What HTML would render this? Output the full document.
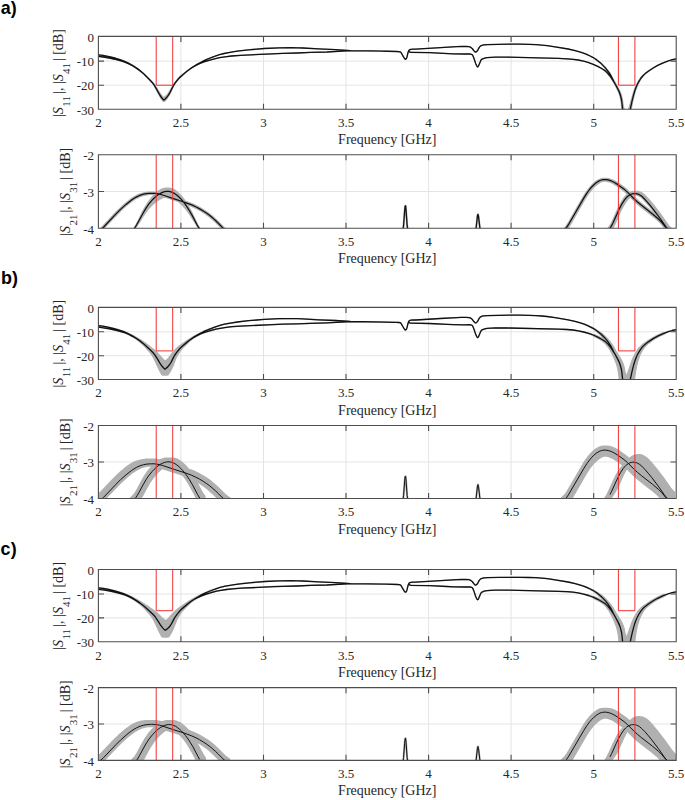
<!DOCTYPE html>
<html><head><meta charset="utf-8"><style>html,body{margin:0;padding:0;background:#fff;width:685px;height:800px;overflow:hidden}svg{display:block}svg{font-family:"Liberation Serif",serif;font-size:13px;fill:#262626}</style></head>
<body>
<svg width="685" height="800" viewBox="0 0 685 800">
<rect width="685" height="800" fill="#fff"/>
<text x="0.7" y="13.6" font-family='"Liberation Sans", sans-serif' font-weight="bold" font-size="17.9" letter-spacing="0.2" fill="#000">a)</text>
<clipPath id="c1"><rect x="98.4" y="36.4" width="577.8" height="72.9"/></clipPath>
<path d="M180.9 36.4V109.3 M263.5 36.4V109.3 M346.0 36.4V109.3 M428.6 36.4V109.3 M511.1 36.4V109.3 M593.7 36.4V109.3 M98.4 61.1H676.2 M98.4 85.2H676.2" stroke="#e4e4e4" stroke-width="1" fill="none"/>
<g clip-path="url(#c1)" fill="none" stroke-linejoin="round" stroke-linecap="round">
<path d="M98.4 54.8 102.9 55.4 108.4 56.4 114.4 57.9 119.4 59.3 123.4 60.7 127.4 62.5 131.4 64.6 134.9 66.7 138.9 69.5 143.4 73.2 145.9 75.5 151.9 81.4 153.4 83.1 154.4 84.4 156.9 88.3 158.9 91.7 160.4 93.8 161.9 95.7 163.4 97.2 163.9 97.5 164.4 97.2 166.4 95.4 168.4 93.2 169.9 90.9 172.4 86.2 173.4 84.5 175.9 81.1 178.9 77.7 180.9 75.8 186.9 71.0 189.9 68.7 193.4 66.4 199.0 63.2 204.0 60.6 209.5 58.2 216.0 55.8 220.5 54.4 225.0 53.3 231.0 52.1 238.0 51.1 249.5 49.7 259.0 48.9 265.0 48.4 279.5 47.8 292.0 47.7 297.5 47.7 302.5 47.9 318.5 48.9 335.5 49.6 350.5 50.6 386.0 51.2 397.1 51.5 399.6 51.7 400.1 51.8 400.6 52.1 401.1 52.7 401.6 53.5 404.1 57.9 405.1 59.1 405.6 59.2 406.1 58.8 406.6 58.0 407.1 56.4 408.1 52.3 408.6 50.9 409.1 50.2 409.6 49.7 410.6 49.3 411.1 49.3 413.1 49.1 415.6 49.1 440.6 47.6 456.6 46.7 461.6 46.5 466.1 46.5 469.1 46.7 469.6 46.8 470.6 47.2 472.1 48.4 472.6 49.0 473.6 50.4 474.6 51.5 475.1 51.9 475.6 52.1 476.1 51.9 476.6 51.6 477.6 50.5 479.1 47.6 480.1 46.3 480.6 45.9 482.1 45.3 483.1 45.0 484.1 44.9 487.1 44.7 498.1 44.4 511.1 44.2 519.6 44.2 528.1 44.4 535.6 44.7 541.1 45.0 546.6 45.5 554.1 46.6 567.6 48.9 574.6 50.4 580.7 52.1 583.7 53.2 586.7 54.3 589.7 55.7 592.2 56.9 594.7 58.4 596.7 59.7 601.2 63.3 603.2 65.1 605.7 67.7 608.2 70.7 610.2 73.5 611.2 75.2 614.2 80.9 617.2 86.1 619.7 90.7 620.7 93.1 621.7 96.3 622.2 98.4 623.2 105.1 623.7 107.2 626.2 115.2 626.7 115.1 627.2 113.6 629.7 105.3 633.2 93.1 634.7 88.6 636.2 85.1 637.7 82.2 639.7 79.0 641.7 76.4 644.2 73.9 647.7 71.3 652.7 68.0 657.2 65.5 662.2 63.1 667.2 61.2 672.2 59.7 676.2 58.8 L676.2 58.9 672.7 59.6 668.2 61.0 663.2 63.0 658.7 65.0 654.2 67.6 650.2 70.2 645.7 73.6 643.7 75.6 641.7 78.0 640.7 79.5 639.2 82.0 637.2 86.2 635.7 90.2 634.2 95.5 632.7 101.9 631.7 107.0 630.2 115.7 629.7 116.5 623.2 116.5 622.7 116.2 622.2 113.0 621.2 103.1 620.7 99.7 619.7 95.4 619.2 93.8 618.2 91.2 615.7 86.2 612.7 80.6 610.2 75.4 609.2 73.7 607.2 70.8 605.2 68.2 602.7 65.5 600.7 63.5 596.2 59.8 594.2 58.4 592.2 57.2 589.7 55.9 587.2 54.7 584.2 53.5 581.2 52.4 575.1 50.6 568.1 49.0 555.1 46.8 547.1 45.6 541.6 45.1 536.1 44.7 529.1 44.4 520.1 44.3 511.1 44.2 498.6 44.4 487.1 44.7 484.1 44.9 483.1 45.0 482.1 45.3 480.6 45.9 480.1 46.4 479.1 47.6 477.6 50.5 476.6 51.6 476.1 52.0 475.6 52.1 475.1 51.9 474.6 51.5 473.6 50.5 472.6 49.0 472.1 48.4 470.6 47.3 469.6 46.8 469.1 46.7 466.1 46.5 461.6 46.5 456.6 46.7 440.6 47.6 415.6 49.2 413.1 49.2 411.1 49.3 410.6 49.3 409.6 49.8 409.1 50.2 408.6 50.9 408.1 52.3 407.1 56.5 406.6 58.1 406.1 58.9 405.6 59.3 405.1 59.2 404.1 58.0 401.6 53.5 401.1 52.7 400.6 52.1 400.1 51.9 399.6 51.8 397.1 51.5 386.0 51.2 350.5 50.6 335.5 49.7 318.5 48.9 302.0 47.9 297.0 47.8 291.0 47.7 278.5 47.9 270.5 48.2 264.0 48.5 247.5 50.0 241.5 50.7 236.0 51.4 228.5 52.6 223.0 53.8 218.5 55.0 213.5 56.7 207.0 59.3 202.0 61.7 196.5 64.8 191.4 68.0 187.4 71.0 182.4 75.3 180.4 77.0 178.4 79.2 175.9 82.5 173.9 85.6 172.9 87.4 169.9 93.9 168.4 96.4 166.9 98.5 164.9 100.9 164.4 101.2 163.9 101.3 163.4 101.2 162.9 100.9 160.9 98.1 158.9 94.7 156.4 89.8 154.4 86.2 153.4 84.6 151.9 82.6 149.9 80.4 143.9 74.2 139.9 70.7 136.4 68.0 132.4 65.4 128.4 63.2 124.4 61.3 120.4 59.7 114.9 58.1 108.9 56.6 102.9 55.4 98.4 54.9Z M98.4 56.3 102.9 56.9 108.9 57.9 115.9 59.5 121.4 60.9 124.9 62.1 128.4 63.5 131.9 65.3 135.4 67.4 139.4 70.1 143.9 73.7 145.9 75.6 151.9 81.5 153.4 83.2 154.4 84.5 156.9 88.4 158.9 91.7 160.4 93.9 161.9 95.8 163.4 97.3 163.9 97.6 164.4 97.3 166.4 95.5 168.4 93.3 169.9 90.9 172.4 86.3 173.4 84.6 175.9 81.2 178.4 78.4 180.4 76.4 186.9 71.1 189.9 68.9 192.9 66.9 197.0 64.7 201.0 63.0 205.0 61.5 211.5 59.6 216.5 58.3 221.0 57.3 226.5 56.5 232.5 55.9 240.5 55.3 273.0 53.7 283.0 53.3 297.0 53.0 311.0 52.4 327.0 52.0 346.0 50.9 352.5 50.8 363.5 50.8 386.5 51.2 397.1 51.5 398.6 51.6 400.1 51.8 400.6 52.1 401.1 52.7 404.1 57.9 405.1 59.1 405.6 59.2 406.1 58.8 406.6 58.0 407.1 56.4 408.1 52.2 408.6 51.2 409.6 51.9 410.6 52.3 411.1 52.3 429.6 52.7 447.1 53.6 453.6 53.8 464.1 54.0 469.6 53.9 470.6 54.0 471.6 54.4 472.1 54.6 472.6 55.1 473.1 56.2 474.1 58.7 475.6 63.3 476.6 65.6 477.1 66.4 477.6 66.8 478.1 66.6 478.6 65.6 480.6 60.9 481.1 59.9 481.6 59.4 482.6 58.8 484.1 58.3 485.6 57.9 487.1 57.6 491.1 57.3 495.6 57.2 506.6 57.1 558.1 58.4 566.6 58.7 572.6 59.2 577.6 59.9 583.2 61.0 588.2 62.4 592.7 64.0 597.2 65.9 603.2 69.2 605.7 70.8 608.2 73.2 611.2 76.7 614.2 81.1 616.2 84.4 618.7 88.9 620.2 92.0 621.2 94.8 622.2 98.5 623.2 105.1 623.7 107.2 626.2 115.2 626.7 115.1 627.2 113.6 629.7 105.3 633.2 93.1 634.7 88.6 636.2 85.1 637.7 82.2 639.7 79.0 641.7 76.4 644.2 73.9 647.7 71.3 652.7 68.0 657.2 65.5 662.2 63.1 667.2 61.2 672.2 59.7 676.2 58.8 L676.2 58.9 672.7 59.6 668.2 61.0 663.2 63.0 658.7 65.0 654.2 67.6 650.2 70.2 645.7 73.6 643.7 75.6 641.7 78.0 640.7 79.5 639.2 82.0 637.2 86.2 635.7 90.2 634.2 95.5 632.7 101.9 631.7 107.0 630.2 115.7 629.7 116.5 623.2 116.5 622.7 116.2 622.2 113.0 621.2 103.2 620.7 99.8 619.7 95.6 618.7 92.6 617.7 90.3 616.2 87.3 613.2 81.7 610.2 77.0 607.7 73.9 605.2 71.3 603.2 69.8 600.7 68.3 597.2 66.3 592.7 64.2 588.2 62.5 583.2 61.1 577.6 60.0 572.6 59.3 566.6 58.8 558.1 58.4 506.6 57.2 495.6 57.2 491.1 57.4 487.1 57.7 485.6 57.9 484.1 58.3 482.6 58.9 481.6 59.5 481.1 60.0 480.6 61.0 478.6 65.7 478.1 66.7 477.6 66.9 477.1 66.5 476.6 65.6 475.6 63.4 474.1 58.7 473.1 56.2 472.6 55.2 472.1 54.6 470.6 54.1 469.1 53.9 464.1 54.0 453.1 53.8 429.6 52.7 411.1 52.3 410.6 52.3 409.6 51.9 408.6 51.2 408.1 52.2 407.1 56.5 406.6 58.1 406.1 58.9 405.6 59.3 405.1 59.2 404.1 58.0 401.1 52.7 400.6 52.1 400.1 51.9 398.6 51.6 396.1 51.5 370.5 50.9 356.5 50.8 346.5 50.9 327.0 52.0 311.0 52.5 297.0 53.1 283.0 53.4 272.5 53.8 240.5 55.3 231.0 56.1 224.5 56.8 219.0 57.8 214.0 59.0 207.5 60.8 203.0 62.3 199.0 64.0 195.0 66.0 191.4 68.2 187.4 71.2 181.9 75.9 179.9 77.7 177.9 80.0 175.9 82.6 173.9 85.7 172.9 87.5 169.9 94.0 168.4 96.5 166.9 98.6 164.9 101.0 164.4 101.3 163.9 101.4 163.4 101.3 162.9 101.0 160.9 98.3 158.9 94.8 156.4 89.9 154.4 86.3 153.4 84.7 151.9 82.7 149.9 80.5 143.9 74.3 139.9 70.9 136.4 68.3 132.4 65.8 128.9 63.9 125.4 62.4 121.9 61.2 116.4 59.7 109.4 58.1 103.4 57.0 98.4 56.4Z" fill="#b0b0b0" stroke="#b0b0b0" stroke-width="1.2"/>
<path d="M98.4 54.9 102.9 55.4 108.9 56.6 114.9 58.0 119.9 59.5 123.9 61.0 127.9 62.8 131.9 65.0 135.9 67.6 139.4 70.1 143.9 74.0 149.9 80.0 151.9 82.1 153.4 83.9 154.4 85.4 156.4 88.8 158.9 93.4 160.9 96.7 162.9 99.2 163.4 99.7 163.9 99.9 164.4 99.7 164.9 99.2 166.9 97.1 168.4 95.1 169.9 92.6 173.4 85.6 175.9 81.9 178.4 78.8 180.4 76.7 185.4 72.5 188.9 69.7 191.9 67.6 197.5 64.1 203.0 61.2 208.0 58.9 214.5 56.3 219.5 54.7 224.0 53.5 230.0 52.3 237.0 51.2 248.5 49.9 264.5 48.5 279.0 47.8 291.5 47.7 297.5 47.8 302.5 48.0 318.5 48.9 335.5 49.7 350.5 50.6 386.0 51.2 397.1 51.5 399.6 51.8 400.1 51.9 400.6 52.1 401.1 52.7 401.6 53.5 404.1 57.9 405.1 59.2 405.6 59.3 406.1 58.8 406.6 58.1 407.1 56.5 408.1 52.3 408.6 50.9 409.1 50.2 409.6 49.8 410.6 49.3 411.1 49.3 413.1 49.1 415.6 49.2 440.6 47.6 456.6 46.7 461.6 46.5 466.1 46.5 469.1 46.7 469.6 46.8 470.6 47.2 472.1 48.4 472.6 49.0 473.6 50.4 474.6 51.5 475.1 51.9 475.6 52.1 476.1 52.0 476.6 51.6 477.6 50.5 479.1 47.6 480.1 46.4 480.6 45.9 482.1 45.3 483.1 45.0 484.1 44.9 487.1 44.7 498.6 44.4 511.1 44.2 520.1 44.2 529.1 44.4 536.1 44.7 541.6 45.1 547.1 45.6 555.1 46.8 568.1 49.0 575.1 50.6 581.2 52.3 584.2 53.4 587.2 54.6 590.2 56.0 592.7 57.3 594.7 58.5 596.7 59.9 601.2 63.6 603.2 65.6 605.7 68.3 607.7 70.8 609.7 73.7 610.7 75.3 613.7 81.3 617.7 88.6 619.2 91.7 620.2 94.5 621.2 98.2 621.7 100.7 622.7 109.7 624.2 116.5 628.7 116.5 632.2 100.3 633.7 94.5 635.2 89.5 636.7 85.8 638.7 81.8 640.7 78.5 642.7 76.0 645.2 73.6 648.7 71.0 653.2 68.0 657.7 65.4 662.7 63.1 667.7 61.1 672.2 59.7 676.2 58.9 M98.4 56.4 103.4 57.0 109.4 58.1 116.4 59.6 121.9 61.2 125.4 62.4 128.9 63.9 132.4 65.7 135.9 67.9 139.9 70.8 143.9 74.1 149.9 80.1 151.9 82.2 153.4 84.0 154.4 85.5 156.4 88.9 158.9 93.5 160.9 96.8 162.9 99.3 163.4 99.8 163.9 100.0 164.4 99.8 164.9 99.3 166.9 97.2 168.4 95.2 169.9 92.7 172.4 87.6 173.4 85.7 175.4 82.7 177.9 79.5 179.9 77.4 185.4 72.6 188.9 69.8 191.9 67.7 196.0 65.4 200.0 63.5 204.0 61.9 209.0 60.3 214.5 58.8 219.5 57.7 225.0 56.8 231.5 56.0 240.5 55.3 272.5 53.8 283.0 53.4 297.0 53.0 311.0 52.4 327.0 52.0 346.5 50.9 357.0 50.8 371.0 50.9 396.1 51.5 398.6 51.6 400.1 51.9 400.6 52.1 401.1 52.7 404.1 57.9 405.1 59.2 405.6 59.3 406.1 58.8 406.6 58.1 407.1 56.5 408.1 52.2 408.6 51.2 409.6 51.9 410.6 52.3 411.1 52.3 429.6 52.7 453.1 53.8 464.1 54.0 469.1 53.9 470.6 54.1 472.1 54.6 472.6 55.1 473.1 56.2 474.1 58.7 475.6 63.4 476.6 65.6 477.1 66.5 477.6 66.9 478.1 66.6 478.6 65.7 480.6 60.9 481.1 60.0 481.6 59.4 482.6 58.9 484.1 58.3 485.6 57.9 487.1 57.7 491.1 57.4 495.6 57.2 507.1 57.2 558.6 58.4 567.1 58.8 573.1 59.3 578.1 60.0 583.7 61.2 588.7 62.6 593.2 64.3 597.7 66.4 601.2 68.3 603.7 69.8 604.7 70.5 605.7 71.3 608.2 73.9 610.2 76.2 611.2 77.6 614.2 82.3 615.7 85.0 618.2 89.7 619.7 93.2 620.7 96.3 621.7 100.8 622.7 109.7 624.2 116.5 628.7 116.5 632.2 100.3 633.7 94.5 635.2 89.5 636.7 85.8 638.7 81.8 640.7 78.5 642.7 76.0 645.2 73.6 648.7 71.0 653.2 68.0 657.7 65.4 662.7 63.1 667.7 61.1 672.2 59.7 676.2 58.9" stroke="#111" stroke-width="1.3"/>
<path d="M156.2 36.4V85.2H172.7V36.4 M618.4 36.4V85.2H634.9V36.4" stroke="#f03030" stroke-width="1" stroke-linecap="butt" stroke-linejoin="miter"/>
</g>
<path d="M98.4 36.4H676.2V109.3H98.4Z M180.9 109.3v-5.6 M180.9 36.4v5.6 M263.5 109.3v-5.6 M263.5 36.4v5.6 M346.0 109.3v-5.6 M346.0 36.4v5.6 M428.6 109.3v-5.6 M428.6 36.4v5.6 M511.1 109.3v-5.6 M511.1 36.4v5.6 M593.7 109.3v-5.6 M593.7 36.4v5.6 M98.4 61.1h5.6 M676.2 61.1h-5.6 M98.4 85.2h5.6 M676.2 85.2h-5.6" stroke="#4d4d4d" stroke-width="1.1" fill="none"/>
<text x="98.4" y="127.1" text-anchor="middle">2</text>
<text x="180.9" y="127.1" text-anchor="middle">2.5</text>
<text x="263.5" y="127.1" text-anchor="middle">3</text>
<text x="346.0" y="127.1" text-anchor="middle">3.5</text>
<text x="428.6" y="127.1" text-anchor="middle">4</text>
<text x="511.1" y="127.1" text-anchor="middle">4.5</text>
<text x="593.7" y="127.1" text-anchor="middle">5</text>
<text x="676.2" y="127.1" text-anchor="middle">5.5</text>
<text x="94" y="42.2" text-anchor="end">0</text>
<text x="94" y="66.3" text-anchor="end">-10</text>
<text x="94" y="90.4" text-anchor="end">-20</text>
<text x="94" y="114.5" text-anchor="end">-30</text>
<text x="387.3" y="144.3" text-anchor="middle" font-size="14">Frequency [GHz]</text>
<text transform="translate(63.4,72.8) rotate(-90)" font-size="14"><tspan x="-44.2" y="0">|</tspan><tspan x="-41.4" y="0" font-style="italic">S</tspan><tspan x="-33.9" y="7" font-size="11">11</tspan><tspan x="-21.1" y="0">|, |</tspan><tspan x="-8.5" y="0" font-style="italic">S</tspan><tspan x="-1.3" y="7" font-size="11">41</tspan><tspan x="11.7" y="0">| [dB]</tspan></text>
<clipPath id="c2"><rect x="98.4" y="154.7" width="577.8" height="73.6"/></clipPath>
<path d="M180.9 154.7V228.3 M263.5 154.7V228.3 M346.0 154.7V228.3 M428.6 154.7V228.3 M511.1 154.7V228.3 M593.7 154.7V228.3 M98.4 191.5H676.2" stroke="#e4e4e4" stroke-width="1" fill="none"/>
<g clip-path="url(#c2)" fill="none" stroke-linejoin="round" stroke-linecap="round">
<path d="M98.2 229.9 100.7 228.1 102.7 226.2 115.7 212.5 120.8 207.5 123.8 204.7 126.8 202.2 129.3 200.2 131.8 198.3 134.3 196.7 136.8 195.3 138.8 194.4 141.3 193.5 143.8 192.9 146.8 192.4 149.4 192.2 152.4 192.2 154.9 192.3 157.9 192.6 160.4 193.1 163.4 194.0 174.4 197.8 183.0 200.4 187.0 201.8 192.5 203.9 197.0 206.0 200.0 207.6 203.5 209.7 207.0 212.1 210.1 214.3 213.1 216.8 216.6 220.0 224.1 227.5 227.1 229.9 L227.1 233.0 223.1 229.9 215.6 222.4 212.6 219.6 209.6 217.1 206.5 214.8 203.5 212.7 200.0 210.5 196.5 208.6 192.0 206.4 186.5 204.2 182.0 202.7 172.9 199.8 162.9 196.4 159.9 195.5 157.4 195.0 154.4 194.5 151.9 194.4 149.4 194.5 146.3 194.9 143.8 195.4 141.3 196.1 139.3 196.9 136.8 198.1 134.8 199.3 132.3 201.0 127.3 204.9 122.3 209.3 117.3 214.3 103.7 228.6 101.7 230.4 98.2 232.9Z M131.3 231.0 133.8 228.3 135.3 226.1 137.3 222.4 142.3 212.1 144.8 207.5 147.8 202.7 149.3 200.6 151.3 198.0 153.3 195.7 155.3 193.7 157.3 192.0 159.3 190.5 161.3 189.4 163.3 188.6 165.3 188.1 166.8 188.0 168.8 188.0 170.8 188.3 172.8 189.0 174.3 189.8 176.3 191.1 178.3 192.9 180.3 194.9 182.3 197.2 184.3 199.8 185.8 201.9 188.8 206.7 191.8 212.3 196.8 222.8 198.3 225.7 199.8 228.1 201.8 230.6 L201.8 232.1 197.8 227.2 196.8 225.8 191.3 216.9 188.3 212.4 185.3 208.5 182.3 205.2 180.3 203.3 178.3 201.6 176.3 200.1 174.3 198.8 172.3 197.9 170.8 197.4 168.8 197.0 167.3 196.9 165.8 197.0 163.8 197.5 161.8 198.2 159.8 199.2 157.8 200.4 155.8 201.8 153.8 203.5 151.8 205.3 148.8 208.5 145.8 212.3 143.3 215.9 138.3 223.9 136.3 226.8 131.3 232.3Z M562.3 230.1 565.3 227.1 567.3 224.3 569.3 221.0 583.3 196.6 586.3 191.9 589.4 187.8 591.4 185.5 593.4 183.5 595.4 181.8 596.9 180.7 598.9 179.6 600.4 179.0 601.9 178.6 603.9 178.4 606.4 178.4 608.4 178.7 610.4 179.2 612.9 180.1 614.9 181.1 617.5 182.6 621.0 185.1 624.5 187.6 626.5 189.3 628.5 191.1 635.0 197.7 638.5 201.0 642.5 204.3 653.6 213.0 659.6 218.1 662.6 221.2 667.6 227.2 670.1 229.7 L670.1 233.8 666.1 230.0 661.1 223.9 658.1 220.8 655.6 218.6 652.1 215.7 641.0 207.0 637.0 203.7 633.5 200.4 627.0 193.8 624.0 191.1 621.5 189.2 617.5 186.3 614.9 184.7 612.9 183.5 610.9 182.5 608.9 181.8 606.9 181.3 604.9 181.0 603.4 181.2 601.9 181.6 600.4 182.2 598.4 183.4 596.4 184.9 594.4 186.7 592.4 188.8 590.9 190.6 587.8 194.7 584.8 199.4 571.3 223.0 568.8 227.1 566.8 229.8 562.3 234.3Z M606.6 230.5 610.1 225.2 611.1 223.5 612.6 220.4 616.6 211.4 619.1 206.0 621.7 201.4 623.7 198.2 625.2 196.3 626.2 195.1 627.2 194.2 628.7 193.0 629.7 192.4 631.2 191.8 632.2 191.5 633.7 191.3 637.7 191.4 639.3 191.7 640.3 192.0 641.3 192.5 642.8 193.5 644.3 194.7 645.8 196.1 649.8 200.4 654.3 205.9 660.9 214.6 667.9 224.6 669.4 226.4 671.4 228.5 L671.4 234.4 666.9 229.7 665.9 228.5 664.4 226.5 659.4 219.2 653.8 211.7 649.8 206.6 645.8 202.0 642.3 198.4 640.8 197.1 639.8 196.4 638.2 195.5 637.2 195.1 635.7 194.8 635.2 194.7 633.7 195.1 632.7 195.5 631.2 196.3 630.2 197.0 628.2 199.0 627.2 200.1 625.7 202.2 623.7 205.5 621.1 210.3 619.1 214.6 615.1 223.7 613.6 226.7 612.6 228.4 606.6 237.5Z" fill="#b0b0b0" stroke="#b0b0b0" stroke-width="1.2"/>
<path d="M401.5 235.0 402.0 233.9 402.5 231.8 403.0 229.2 403.6 225.3 404.6 211.4 405.1 206.3 405.6 205.8 406.1 210.6 407.1 225.2 407.7 229.2 408.2 231.9 408.7 234.0 409.2 235.0 M475.0 235.0 476.0 229.0 477.5 215.5 478.0 214.3 478.5 216.4 480.0 228.9 481.0 235.0" stroke="#b0b0b0" stroke-width="2"/>
<path d="M100.5 229.8 102.0 228.6 103.5 227.2 116.0 213.9 120.5 209.4 126.1 204.4 129.1 201.9 131.6 200.0 134.1 198.3 136.6 196.9 139.1 195.7 141.1 194.9 143.6 194.2 146.1 193.7 149.1 193.4 151.6 193.3 154.1 193.3 157.1 193.7 159.6 194.2 162.7 195.0 174.2 198.9 182.2 201.5 186.2 202.8 191.7 204.9 196.2 207.0 199.7 208.9 203.2 211.0 206.8 213.3 209.8 215.6 212.8 218.1 215.8 220.8 218.8 223.7 222.8 227.9 224.8 229.6 M133.6 229.1 135.1 227.3 136.6 225.0 142.7 213.7 145.7 208.6 148.7 204.2 151.7 200.6 153.7 198.5 155.7 196.6 157.7 195.0 159.8 193.7 161.8 192.6 163.8 191.9 165.8 191.4 167.3 191.3 169.3 191.4 170.8 191.8 172.8 192.5 174.3 193.4 176.4 194.8 178.4 196.5 180.4 198.4 182.4 200.6 184.4 203.1 185.9 205.2 188.9 209.8 192.0 215.1 197.0 224.8 198.5 227.2 199.5 228.6 M564.9 229.3 566.4 227.6 568.4 224.7 583.9 197.9 586.9 193.1 589.9 189.0 591.9 186.7 593.9 184.7 595.9 183.0 597.9 181.6 599.9 180.5 601.4 180.0 602.9 179.6 604.9 179.5 606.9 179.7 608.9 180.1 610.9 180.8 612.9 181.7 614.9 182.8 617.5 184.4 621.0 186.9 624.0 189.1 627.5 192.1 634.0 198.7 637.5 202.0 641.5 205.3 652.5 214.0 658.5 219.1 661.5 222.1 666.0 227.6 667.5 229.2 M610.2 228.0 611.2 226.4 612.7 223.5 617.2 213.4 619.7 208.1 622.2 203.4 624.2 200.3 625.7 198.4 626.7 197.3 627.7 196.3 629.2 195.2 630.2 194.6 631.7 194.0 633.2 193.6 634.7 193.5 636.2 193.6 637.2 193.9 638.7 194.4 639.8 195.0 640.8 195.6 642.3 196.8 645.3 199.8 649.3 204.3 653.3 209.3 659.8 218.0 665.8 226.6 667.8 229.0 M401.5 235.0 402.0 233.9 402.5 231.8 403.0 229.2 403.6 225.3 404.6 211.4 405.1 206.3 405.6 205.8 406.1 210.6 407.1 225.2 407.7 229.2 408.2 231.9 408.7 234.0 409.2 235.0 M475.0 235.0 476.0 229.0 477.5 215.5 478.0 214.3 478.5 216.4 480.0 228.9 481.0 235.0" stroke="#111" stroke-width="1.25"/>
<path d="M156.2 154.7V228.3 M172.7 154.7V228.3 M618.4 154.7V228.3 M634.9 154.7V228.3" stroke="#f03030" stroke-width="1" stroke-linecap="butt" stroke-linejoin="miter"/>
</g>
<path d="M98.4 154.7H676.2V228.3H98.4Z M180.9 228.3v-5.6 M180.9 154.7v5.6 M263.5 228.3v-5.6 M263.5 154.7v5.6 M346.0 228.3v-5.6 M346.0 154.7v5.6 M428.6 228.3v-5.6 M428.6 154.7v5.6 M511.1 228.3v-5.6 M511.1 154.7v5.6 M593.7 228.3v-5.6 M593.7 154.7v5.6 M98.4 191.5h5.6 M676.2 191.5h-5.6" stroke="#4d4d4d" stroke-width="1.1" fill="none"/>
<text x="98.4" y="246.1" text-anchor="middle">2</text>
<text x="180.9" y="246.1" text-anchor="middle">2.5</text>
<text x="263.5" y="246.1" text-anchor="middle">3</text>
<text x="346.0" y="246.1" text-anchor="middle">3.5</text>
<text x="428.6" y="246.1" text-anchor="middle">4</text>
<text x="511.1" y="246.1" text-anchor="middle">4.5</text>
<text x="593.7" y="246.1" text-anchor="middle">5</text>
<text x="676.2" y="246.1" text-anchor="middle">5.5</text>
<text x="94" y="159.9" text-anchor="end">-2</text>
<text x="94" y="196.7" text-anchor="end">-3</text>
<text x="94" y="233.5" text-anchor="end">-4</text>
<text x="387.3" y="263.3" text-anchor="middle" font-size="14">Frequency [GHz]</text>
<text transform="translate(69.6,191.5) rotate(-90)" font-size="14"><tspan x="-44.2" y="0">|</tspan><tspan x="-41.4" y="0" font-style="italic">S</tspan><tspan x="-33.9" y="7" font-size="11">21</tspan><tspan x="-21.1" y="0">|, |</tspan><tspan x="-8.5" y="0" font-style="italic">S</tspan><tspan x="-1.3" y="7" font-size="11">31</tspan><tspan x="11.7" y="0">| [dB]</tspan></text>
<text x="0.9" y="284.4" font-family='"Liberation Sans", sans-serif' font-weight="bold" font-size="17.9" letter-spacing="0.2" fill="#000">b)</text>
<clipPath id="c3"><rect x="98.4" y="307.4" width="577.8" height="72.1"/></clipPath>
<path d="M180.9 307.4V379.5 M263.5 307.4V379.5 M346.0 307.4V379.5 M428.6 307.4V379.5 M511.1 307.4V379.5 M593.7 307.4V379.5 M98.4 331.8H676.2 M98.4 355.7H676.2" stroke="#e4e4e4" stroke-width="1" fill="none"/>
<g clip-path="url(#c3)" fill="none" stroke-linejoin="round" stroke-linecap="round">
<path d="M98.4 325.5 102.4 326.0 107.4 326.9 112.9 328.1 117.9 329.4 121.9 330.7 125.9 332.2 129.4 333.7 133.4 335.7 137.9 338.3 142.4 341.1 146.9 344.3 154.4 350.1 156.9 352.3 162.4 358.5 163.9 359.9 164.9 360.7 165.4 360.7 165.9 360.4 166.9 359.6 167.9 358.7 168.9 357.6 171.4 354.1 172.9 352.2 175.9 349.0 178.9 346.3 185.9 341.3 189.4 339.0 194.4 336.0 200.0 333.0 204.5 330.9 209.5 328.8 215.5 326.6 220.0 325.2 224.0 324.2 229.0 323.2 235.5 322.2 242.0 321.3 256.0 319.9 267.0 319.1 281.0 318.6 293.5 318.5 301.5 318.7 318.5 319.7 334.5 320.4 346.0 321.2 346.5 321.2 350.5 321.5 386.0 322.0 397.1 322.3 399.6 322.6 400.1 322.7 400.6 322.9 401.1 323.5 401.6 324.3 404.1 328.7 405.1 329.8 405.6 330.0 406.1 329.5 406.6 328.8 407.1 327.2 408.1 323.1 408.6 321.7 409.1 321.0 409.6 320.6 410.6 320.2 411.1 320.1 413.1 320.0 415.6 320.0 440.6 318.4 456.6 317.6 461.6 317.4 466.1 317.3 469.1 317.6 469.6 317.6 470.6 318.1 472.1 319.2 472.6 319.8 473.6 321.3 474.6 322.3 475.1 322.7 475.6 322.9 476.1 322.8 476.6 322.4 477.6 321.3 479.1 318.5 480.1 317.2 480.6 316.8 481.6 316.3 482.6 316.0 483.6 315.8 487.1 315.6 496.1 315.3 517.1 315.1 533.1 315.5 538.6 315.7 543.6 316.1 551.6 317.1 564.6 319.2 571.6 320.5 577.6 322.0 583.7 323.9 586.7 325.0 589.7 326.2 592.2 327.4 594.7 328.7 596.7 329.9 598.7 331.2 602.7 334.2 606.7 337.9 608.7 340.1 610.2 341.9 612.7 345.3 615.7 350.7 620.7 358.7 622.2 361.6 623.2 364.1 623.7 365.6 624.2 367.4 625.2 373.0 625.7 374.5 626.2 375.6 626.7 375.5 627.7 373.1 632.2 359.9 634.2 355.4 635.7 352.7 637.7 349.6 639.2 347.7 641.2 345.6 643.2 343.9 648.2 340.6 652.7 338.0 657.2 335.7 662.2 333.6 667.7 331.6 672.2 330.3 676.2 329.5 L676.2 329.8 672.7 330.5 668.7 331.8 664.2 333.6 660.2 335.4 656.7 337.4 653.7 339.3 649.2 342.7 647.2 344.4 646.2 345.3 644.7 347.0 643.7 348.3 642.7 349.8 641.2 352.5 640.2 354.6 639.2 357.0 637.7 361.5 636.7 365.5 635.7 370.7 634.7 377.7 634.2 382.8 633.7 386.7 619.7 386.7 619.2 378.8 618.7 373.9 618.2 370.6 617.7 368.1 617.2 366.1 616.2 363.0 613.7 357.1 611.2 351.8 609.2 347.3 608.2 345.3 606.2 342.1 604.2 339.3 601.7 336.3 599.7 334.3 595.7 330.8 593.7 329.3 591.7 328.1 589.2 326.7 586.7 325.5 583.7 324.2 580.7 323.2 574.6 321.4 568.1 319.9 555.1 317.7 547.1 316.5 541.6 316.0 536.1 315.6 529.1 315.4 520.1 315.2 511.1 315.2 498.6 315.3 487.1 315.6 484.1 315.8 483.1 315.9 482.1 316.2 480.6 316.8 480.1 317.3 479.1 318.5 477.6 321.4 476.6 322.5 476.1 322.8 475.6 323.0 475.1 322.8 474.6 322.4 473.6 321.3 472.6 319.9 472.1 319.3 470.6 318.2 469.6 317.7 469.1 317.6 466.1 317.4 461.6 317.4 456.6 317.6 440.6 318.5 415.6 320.1 413.1 320.1 411.1 320.2 410.6 320.2 409.6 320.7 409.1 321.1 408.6 321.8 408.1 323.2 407.1 327.3 406.6 328.9 406.1 329.7 405.6 330.1 405.1 330.0 404.1 328.8 401.6 324.4 401.1 323.6 400.6 323.0 400.1 322.8 399.1 322.6 396.6 322.4 385.5 322.1 350.5 321.5 335.5 320.6 318.5 319.8 302.0 318.8 296.5 318.7 289.5 318.6 277.0 318.8 269.0 319.1 263.0 319.5 246.0 321.0 240.0 321.7 234.0 322.6 227.0 323.8 222.0 324.9 217.0 326.4 211.5 328.4 206.0 330.7 201.5 333.0 196.5 336.0 191.9 339.2 188.4 342.1 183.9 346.5 181.9 348.6 180.4 350.5 178.4 353.6 176.4 357.2 175.4 359.5 172.9 366.0 170.9 370.0 168.4 374.2 167.9 374.7 166.9 374.9 165.4 374.8 164.4 374.9 163.4 374.8 162.4 374.9 161.9 374.7 161.4 373.9 159.4 370.1 155.4 361.3 153.9 358.2 152.9 356.4 151.4 354.1 148.9 351.1 143.4 345.1 139.4 341.5 135.4 338.3 131.9 336.0 127.9 333.8 123.9 331.9 119.9 330.4 114.9 328.9 108.9 327.4 102.9 326.3 98.4 325.7Z M98.4 327.0 102.4 327.4 107.9 328.4 114.4 329.7 119.9 331.0 123.4 332.0 126.9 333.2 129.9 334.4 133.4 336.1 136.4 337.7 139.4 339.4 144.9 343.0 147.4 344.8 153.9 349.7 156.9 352.3 162.4 358.6 163.9 360.0 164.9 360.8 165.4 360.8 165.9 360.4 166.9 359.7 167.9 358.8 168.9 357.6 171.4 354.1 172.4 352.9 175.4 349.7 178.4 346.9 185.4 341.8 188.4 339.8 191.9 337.6 195.5 335.7 199.5 333.9 203.5 332.5 209.5 330.7 215.5 329.1 219.5 328.2 224.0 327.5 229.5 326.8 235.5 326.3 241.5 325.9 274.5 324.4 283.5 324.1 296.5 323.8 310.5 323.2 327.0 322.7 346.0 321.7 364.5 321.6 388.1 322.1 397.1 322.3 398.6 322.4 400.1 322.7 400.6 322.9 401.1 323.5 404.1 328.7 405.1 329.8 405.6 330.0 406.1 329.5 406.6 328.8 407.1 327.2 408.1 323.0 408.6 322.0 409.6 322.7 410.6 323.1 411.1 323.1 429.6 323.5 447.1 324.4 453.6 324.6 464.1 324.8 469.6 324.7 470.6 324.8 471.6 325.1 472.1 325.4 472.6 325.9 473.1 326.9 474.1 329.4 475.6 334.0 476.6 336.2 477.1 337.0 477.6 337.4 478.1 337.2 478.6 336.2 480.6 331.6 481.1 330.6 481.6 330.1 482.6 329.5 484.1 329.0 485.6 328.6 487.1 328.4 491.1 328.1 495.6 327.9 506.6 327.9 557.1 329.1 565.6 329.4 571.6 329.8 576.6 330.4 581.7 331.3 586.7 332.5 591.2 333.9 595.2 335.3 599.2 337.1 604.7 339.9 606.7 341.1 607.7 341.9 610.7 344.7 612.2 346.3 613.7 348.1 617.2 353.1 621.2 359.7 622.7 362.9 623.7 365.7 624.2 367.5 625.2 373.0 625.7 374.5 626.2 375.6 626.7 375.5 627.7 373.1 632.2 359.9 634.2 355.4 635.7 352.7 637.7 349.6 639.2 347.7 641.2 345.6 643.2 343.9 648.2 340.6 652.7 338.0 657.2 335.7 662.2 333.6 667.7 331.6 672.2 330.3 676.2 329.5 L676.2 329.8 672.7 330.5 668.7 331.8 664.2 333.6 660.2 335.4 656.7 337.4 653.7 339.3 649.2 342.7 647.2 344.4 646.2 345.3 644.7 347.0 643.7 348.3 642.7 349.8 641.2 352.5 640.2 354.6 639.2 357.0 637.7 361.5 636.7 365.5 635.7 370.7 634.7 377.7 634.2 382.8 633.7 386.7 619.7 386.7 619.2 379.0 618.7 374.1 618.2 370.8 617.7 368.4 616.7 364.7 615.7 361.9 614.2 358.3 611.7 353.1 610.2 350.3 608.7 347.9 606.2 344.6 603.7 341.9 601.7 340.4 596.2 337.0 592.2 335.1 587.7 333.4 583.2 332.1 577.6 330.8 572.6 330.1 566.6 329.6 558.1 329.3 507.1 328.0 495.6 328.1 491.1 328.2 487.1 328.5 485.6 328.8 484.1 329.2 482.6 329.7 481.6 330.3 481.1 330.8 480.6 331.8 478.6 336.6 478.1 337.5 477.6 337.8 477.1 337.4 476.6 336.5 475.6 334.3 474.1 329.6 473.1 327.0 472.6 326.0 472.1 325.5 470.6 324.9 469.1 324.8 464.1 324.9 453.1 324.7 429.6 323.6 411.1 323.2 410.6 323.2 409.6 322.8 408.6 322.1 408.1 323.1 407.1 327.3 406.6 328.9 406.1 329.7 405.6 330.1 405.1 330.0 404.1 328.8 401.1 323.6 400.6 323.0 400.1 322.8 398.6 322.5 396.1 322.3 370.0 321.8 355.0 321.7 346.0 321.8 327.0 322.9 311.0 323.3 297.0 323.9 282.5 324.3 271.5 324.7 240.0 326.2 234.5 326.6 229.5 327.1 223.5 327.8 218.5 328.7 213.5 329.9 207.5 331.7 203.0 333.3 199.5 334.8 196.0 336.7 192.9 338.6 190.9 340.2 188.9 341.9 183.9 346.7 181.9 348.8 179.9 351.4 177.9 354.5 176.4 357.3 175.4 359.6 173.4 364.9 172.4 367.3 170.4 371.1 168.4 374.3 167.9 374.9 166.9 375.1 165.4 374.9 164.4 375.1 163.4 374.9 162.4 375.1 161.9 374.8 159.9 371.3 157.4 366.0 154.9 360.4 153.4 357.4 151.9 354.9 149.4 351.7 143.9 345.7 140.4 342.5 137.4 340.1 133.9 337.7 129.9 335.3 126.4 333.7 122.9 332.4 117.4 330.8 110.4 329.1 103.4 327.8 98.4 327.2Z" fill="#b0b0b0" stroke="#b0b0b0" stroke-width="1.2"/>
<path d="M599.7 333.0 602.2 335.3 605.2 338.4 607.2 340.8 609.2 343.5 610.7 345.9 613.7 351.8 618.2 360.0 619.2 362.1 620.2 364.8 621.2 368.5 621.7 371.0 622.7 379.9 623.7 384.6 624.2 387.7 624.7 389.0 628.2 389.0 628.7 387.4 629.7 381.8 632.2 370.6 633.7 364.8 634.7 361.4 635.7 358.6 637.2 355.1 638.7 352.3 640.7 349.1 642.2 347.1 644.7 344.6 646.7 343.0 649.7 340.9 653.2 338.6 656.7 336.6 660.2 334.9 664.2 333.2 M594.2 335.4 597.2 336.8 600.7 338.7 603.2 340.1 605.2 341.5 607.2 343.4 609.7 346.2 611.2 348.1 612.7 350.4 615.2 354.5 618.2 360.1 619.2 362.3 620.2 365.0 621.2 368.6 621.7 371.1 622.7 379.9 623.7 384.6 624.2 387.7 624.7 389.0 628.2 389.0 628.7 387.4 629.7 381.8 631.7 372.7 632.7 368.6 634.2 363.1 635.2 360.0 636.7 356.2 638.2 353.2 639.7 350.6 641.7 347.7 643.2 346.1 645.2 344.2 648.2 341.9 652.2 339.2 655.7 337.2 659.7 335.1 664.2 333.2" stroke="#b0b0b0" stroke-width="3.0"/>
<path d="M98.4 325.7 102.9 326.2 108.9 327.4 114.9 328.8 119.9 330.3 123.9 331.7 127.9 333.5 131.9 335.6 135.9 338.0 139.9 340.8 144.4 344.4 150.9 350.5 152.9 352.5 154.4 354.3 155.4 355.7 157.4 358.8 159.9 363.1 161.9 366.0 163.9 368.3 164.4 368.8 164.9 369.0 165.4 368.9 165.9 368.5 167.4 367.1 168.4 366.0 169.9 364.1 170.9 362.5 173.9 356.6 174.9 354.9 177.4 351.4 179.9 348.4 181.9 346.5 187.4 341.8 190.4 339.5 193.4 337.4 198.5 334.4 203.5 331.7 209.0 329.3 215.5 326.8 220.0 325.3 224.5 324.2 230.5 323.1 237.5 322.0 248.5 320.7 264.5 319.4 279.0 318.7 291.5 318.6 297.5 318.6 302.5 318.8 318.5 319.8 335.5 320.5 350.5 321.5 386.0 322.1 397.1 322.3 399.6 322.6 400.1 322.7 400.6 322.9 401.1 323.5 401.6 324.3 404.1 328.7 405.1 329.9 405.6 330.0 406.1 329.6 406.6 328.8 407.1 327.3 408.1 323.2 408.6 321.7 409.1 321.0 409.6 320.6 410.6 320.2 411.1 320.1 413.1 320.0 415.6 320.0 440.6 318.5 456.6 317.6 461.6 317.4 466.1 317.4 469.1 317.6 469.6 317.7 470.6 318.1 472.1 319.3 472.6 319.8 473.6 321.3 474.6 322.3 475.1 322.8 475.6 322.9 476.1 322.8 476.6 322.4 477.6 321.4 479.1 318.5 480.1 317.3 480.6 316.8 482.1 316.2 483.1 315.9 484.1 315.8 487.1 315.6 498.6 315.3 511.1 315.2 520.1 315.2 529.1 315.3 536.1 315.6 541.6 316.0 547.1 316.5 555.1 317.7 568.1 319.9 575.1 321.4 581.2 323.2 584.2 324.2 587.2 325.4 590.2 326.8 592.7 328.1 594.7 329.3 596.7 330.7 601.2 334.3 603.2 336.3 605.7 338.9 607.7 341.4 609.7 344.3 610.7 345.9 613.7 351.8 617.7 359.1 619.2 362.1 620.2 364.8 621.2 368.5 621.7 371.0 622.7 379.9 624.2 386.7 628.7 386.7 632.2 370.6 633.7 364.8 635.2 360.0 636.7 356.2 638.7 352.3 640.7 349.1 642.7 346.6 645.2 344.2 648.7 341.6 653.2 338.6 657.7 336.1 662.7 333.8 667.7 331.9 672.2 330.5 676.2 329.6 M98.4 327.1 103.4 327.8 109.4 328.8 116.4 330.4 121.9 331.9 125.4 333.0 128.9 334.5 132.4 336.3 135.9 338.3 139.9 341.0 144.4 344.5 150.9 350.6 152.9 352.6 154.4 354.4 155.4 355.8 157.4 358.9 159.9 363.2 161.9 366.1 163.9 368.4 164.4 368.8 164.9 369.1 165.4 369.0 165.9 368.6 167.4 367.2 168.4 366.1 169.9 364.2 170.9 362.6 174.4 355.8 176.9 352.2 179.4 349.1 181.4 347.1 187.4 342.0 190.4 339.6 192.9 337.9 196.5 335.9 200.5 334.0 204.5 332.5 210.5 330.7 216.0 329.2 220.5 328.3 226.0 327.4 232.0 326.7 240.5 326.1 273.0 324.6 283.0 324.2 297.0 323.9 311.0 323.3 327.0 322.8 346.5 321.8 357.5 321.6 371.5 321.8 396.1 322.3 398.6 322.5 400.1 322.7 400.6 322.9 401.1 323.5 404.1 328.7 405.1 329.9 405.6 330.0 406.1 329.6 406.6 328.8 407.1 327.2 408.1 323.0 408.6 322.0 409.6 322.8 410.6 323.1 411.1 323.1 429.6 323.5 447.1 324.4 453.6 324.6 464.1 324.8 469.6 324.7 470.6 324.9 471.6 325.2 472.1 325.4 472.6 325.9 473.1 327.0 474.1 329.5 475.6 334.1 476.6 336.3 477.1 337.1 477.6 337.6 478.1 337.3 478.6 336.4 480.6 331.7 481.1 330.7 481.6 330.2 482.6 329.6 484.1 329.1 485.6 328.7 487.1 328.4 491.1 328.1 495.6 328.0 507.1 328.0 558.6 329.2 567.1 329.5 573.1 330.0 578.1 330.8 583.7 332.0 588.7 333.4 593.2 335.0 597.7 337.1 601.2 339.0 603.7 340.5 604.7 341.1 605.7 341.9 608.2 344.4 610.2 346.8 611.2 348.1 614.2 352.8 615.7 355.4 618.2 360.1 619.7 363.6 620.7 366.7 621.7 371.1 622.7 379.9 624.2 386.7 628.7 386.7 632.2 370.6 633.7 364.8 635.2 360.0 636.7 356.2 638.7 352.3 640.7 349.1 642.7 346.6 645.2 344.2 648.7 341.6 653.2 338.6 657.7 336.1 662.7 333.8 667.7 331.9 672.2 330.5 676.2 329.6" stroke="#111" stroke-width="1.3"/>
<path d="M156.2 307.4V350.9H172.7V307.4 M618.4 307.4V350.9H634.9V307.4" stroke="#f03030" stroke-width="1" stroke-linecap="butt" stroke-linejoin="miter"/>
</g>
<path d="M98.4 307.4H676.2V379.5H98.4Z M180.9 379.5v-5.6 M180.9 307.4v5.6 M263.5 379.5v-5.6 M263.5 307.4v5.6 M346.0 379.5v-5.6 M346.0 307.4v5.6 M428.6 379.5v-5.6 M428.6 307.4v5.6 M511.1 379.5v-5.6 M511.1 307.4v5.6 M593.7 379.5v-5.6 M593.7 307.4v5.6 M98.4 331.8h5.6 M676.2 331.8h-5.6 M98.4 355.7h5.6 M676.2 355.7h-5.6" stroke="#4d4d4d" stroke-width="1.1" fill="none"/>
<text x="98.4" y="397.3" text-anchor="middle">2</text>
<text x="180.9" y="397.3" text-anchor="middle">2.5</text>
<text x="263.5" y="397.3" text-anchor="middle">3</text>
<text x="346.0" y="397.3" text-anchor="middle">3.5</text>
<text x="428.6" y="397.3" text-anchor="middle">4</text>
<text x="511.1" y="397.3" text-anchor="middle">4.5</text>
<text x="593.7" y="397.3" text-anchor="middle">5</text>
<text x="676.2" y="397.3" text-anchor="middle">5.5</text>
<text x="94" y="313.2" text-anchor="end">0</text>
<text x="94" y="337.0" text-anchor="end">-10</text>
<text x="94" y="360.9" text-anchor="end">-20</text>
<text x="94" y="384.7" text-anchor="end">-30</text>
<text x="387.3" y="414.5" text-anchor="middle" font-size="14">Frequency [GHz]</text>
<text transform="translate(63.4,343.4) rotate(-90)" font-size="14"><tspan x="-44.2" y="0">|</tspan><tspan x="-41.4" y="0" font-style="italic">S</tspan><tspan x="-33.9" y="7" font-size="11">11</tspan><tspan x="-21.1" y="0">|, |</tspan><tspan x="-8.5" y="0" font-style="italic">S</tspan><tspan x="-1.3" y="7" font-size="11">41</tspan><tspan x="11.7" y="0">| [dB]</tspan></text>
<clipPath id="c4"><rect x="98.4" y="425.5" width="577.8" height="73.0"/></clipPath>
<path d="M180.9 425.5V498.5 M263.5 425.5V498.5 M346.0 425.5V498.5 M428.6 425.5V498.5 M511.1 425.5V498.5 M593.7 425.5V498.5 M98.4 462.0H676.2" stroke="#e4e4e4" stroke-width="1" fill="none"/>
<g clip-path="url(#c4)" fill="none" stroke-linejoin="round" stroke-linecap="round">
<path d="M95.2 496.8 97.7 495.0 99.7 493.2 113.3 479.0 118.3 474.1 121.3 471.4 124.8 468.5 127.8 466.2 130.3 464.5 132.8 463.0 135.3 461.8 137.8 460.9 140.3 460.2 143.3 459.7 146.4 459.4 153.9 459.4 156.4 459.5 159.4 460.0 161.9 460.5 164.9 461.4 174.9 464.8 184.0 467.6 188.5 469.2 194.0 471.3 198.5 473.5 201.5 475.1 205.0 477.2 208.0 479.2 211.0 481.5 214.0 484.0 217.5 487.1 225.1 494.6 230.1 498.4 L230.1 508.4 220.1 500.7 212.5 493.3 209.5 490.6 206.5 488.0 204.0 486.1 201.0 484.0 198.0 482.1 195.0 480.4 192.0 478.9 188.5 477.3 184.5 475.7 180.4 474.3 170.9 471.3 161.9 468.2 158.4 467.1 154.4 466.2 150.9 465.7 148.4 465.9 145.9 466.3 143.3 466.9 141.3 467.6 139.3 468.5 136.8 469.8 134.8 471.0 132.3 472.7 129.8 474.6 126.8 477.1 121.3 482.1 117.8 485.7 105.7 498.3 103.7 500.3 102.2 501.5 95.2 506.5Z M128.3 500.7 133.3 495.4 134.9 493.5 136.9 490.2 141.9 480.8 144.4 476.5 147.4 472.0 148.9 470.0 151.0 467.7 153.0 465.5 155.0 463.7 157.0 462.0 158.5 461.0 160.5 459.8 162.5 459.0 164.5 458.4 166.0 458.2 172.6 458.2 174.6 458.5 176.1 458.9 178.1 459.8 180.1 461.1 182.1 462.7 184.2 464.5 186.2 466.6 188.2 469.0 190.2 471.7 192.2 474.6 195.7 480.5 201.8 491.9 203.3 494.3 204.8 496.2 L204.8 508.9 198.7 501.4 197.7 500.0 195.7 496.5 191.7 488.8 189.2 484.3 186.2 479.6 183.2 475.5 181.6 473.7 179.6 471.5 177.6 469.6 176.1 468.3 174.1 466.9 172.6 466.1 171.1 465.4 169.6 465.0 168.1 465.3 166.6 465.9 165.0 466.6 163.0 467.8 161.5 468.9 159.5 470.6 157.5 472.5 155.5 474.7 152.5 478.5 149.4 482.9 146.9 487.3 141.9 496.7 139.9 500.0 138.4 501.9 128.3 512.5Z M561.1 498.6 564.6 495.1 565.6 493.9 567.1 491.7 569.1 488.4 583.1 464.3 586.1 459.6 589.2 455.6 591.2 453.4 593.2 451.4 595.2 449.7 596.7 448.7 598.7 447.6 600.2 447.0 601.7 446.6 603.7 446.4 607.2 446.4 609.2 446.6 611.2 447.1 613.7 448.0 615.7 448.9 618.2 450.4 621.7 452.8 625.2 455.3 627.7 457.3 629.7 459.1 636.2 465.7 639.7 468.9 643.7 472.2 654.3 480.3 660.3 485.4 663.3 488.4 668.3 494.4 671.3 497.3 L671.3 509.4 665.8 504.2 660.8 498.2 657.8 495.1 655.3 492.9 651.8 490.0 640.7 481.4 636.7 478.1 633.2 474.9 626.7 468.3 623.7 465.7 621.2 463.8 617.7 461.3 614.7 459.3 612.7 458.1 610.7 457.2 608.7 456.4 606.7 455.9 605.2 455.7 603.7 456.0 602.2 456.5 600.7 457.3 598.7 458.6 597.2 459.8 595.2 461.6 593.2 463.7 591.7 465.5 589.2 468.9 586.1 473.6 572.1 497.8 569.6 501.8 568.6 503.2 567.6 504.4 561.1 510.8Z M603.6 500.2 606.6 495.6 607.6 493.9 609.1 490.7 613.6 480.7 615.6 476.5 618.2 472.0 620.2 469.0 621.2 467.7 622.7 466.0 629.2 459.0 630.7 457.5 631.7 456.8 633.2 455.9 634.7 455.3 636.2 455.0 637.2 454.9 640.3 454.9 641.8 455.2 642.8 455.6 643.8 456.1 645.3 457.0 646.8 458.2 648.3 459.6 652.3 463.9 656.3 468.7 663.4 478.0 670.4 487.9 671.9 489.7 674.4 492.2 L674.4 512.5 662.4 500.1 660.8 498.1 655.3 490.3 649.8 482.9 645.8 477.8 641.3 472.7 638.2 469.7 636.7 468.5 635.7 467.8 633.7 466.8 632.2 466.4 631.2 466.2 629.2 466.6 628.2 467.0 627.2 467.5 625.7 470.1 623.7 474.0 621.7 478.2 617.7 487.2 615.6 491.1 603.6 509.2Z" fill="#b0b0b0" stroke="#b0b0b0" stroke-width="1.6"/>
<path d="M401.5 505.1 402.0 504.0 402.5 502.0 403.0 499.4 403.6 495.5 404.6 481.8 405.1 476.7 405.6 476.2 406.1 481.0 407.1 495.4 407.7 499.4 408.2 502.1 408.7 504.1 409.2 505.1 M475.0 505.1 476.0 499.2 477.5 485.8 478.0 484.6 478.5 486.7 480.0 499.1 481.0 505.1" stroke="#b0b0b0" stroke-width="2"/>
<path d="M100.5 500.0 102.0 498.8 103.5 497.4 116.0 484.3 120.5 479.7 126.1 474.8 129.1 472.4 131.6 470.5 134.1 468.8 136.6 467.3 139.1 466.2 141.1 465.4 143.6 464.7 146.1 464.2 149.1 463.9 151.6 463.8 154.1 463.8 157.1 464.2 159.6 464.7 162.7 465.5 174.2 469.4 186.2 473.2 191.7 475.3 196.2 477.4 199.7 479.2 203.2 481.3 206.8 483.7 209.8 485.9 212.8 488.4 215.8 491.1 218.8 494.0 222.8 498.1 224.8 499.8 M133.6 500.2 135.6 497.9 137.1 495.7 139.1 492.2 143.7 483.7 146.7 478.6 149.2 475.1 152.2 471.4 154.2 469.3 156.2 467.4 158.2 465.7 160.3 464.3 162.3 463.3 164.3 462.5 166.3 462.0 167.8 461.8 169.8 461.9 171.3 462.2 173.3 462.9 174.9 463.6 176.9 465.0 178.9 466.6 180.9 468.5 182.9 470.7 184.9 473.1 186.4 475.1 189.4 479.6 192.5 484.8 197.5 494.4 199.5 497.7 M564.9 499.5 566.4 497.8 568.4 494.9 583.9 468.3 586.9 463.6 589.9 459.5 591.9 457.2 593.9 455.2 595.9 453.5 597.9 452.2 599.9 451.1 601.4 450.6 602.9 450.2 604.9 450.1 606.9 450.3 608.9 450.7 610.9 451.4 612.9 452.3 614.9 453.4 617.5 455.0 621.0 457.4 624.0 459.6 627.5 462.6 634.0 469.2 637.5 472.4 641.5 475.7 652.5 484.3 658.5 489.4 661.5 492.4 666.0 497.8 667.5 499.4 M610.2 494.2 611.7 491.2 616.2 481.2 618.2 477.0 620.7 472.3 623.2 468.5 624.7 466.7 625.7 465.6 626.7 464.7 628.2 463.7 629.7 462.9 631.2 462.4 632.7 462.2 634.2 462.2 635.7 462.5 636.7 462.8 637.7 463.3 639.3 464.2 641.8 466.2 644.8 469.3 648.3 473.3 651.8 477.6 658.3 486.2 664.3 494.8 665.8 496.6 667.8 498.7 M401.5 505.1 402.0 504.0 402.5 502.0 403.0 499.4 403.6 495.5 404.6 481.8 405.1 476.7 405.6 476.2 406.1 481.0 407.1 495.4 407.7 499.4 408.2 502.1 408.7 504.1 409.2 505.1 M475.0 505.1 476.0 499.2 477.5 485.8 478.0 484.6 478.5 486.7 480.0 499.1 481.0 505.1" stroke="#111" stroke-width="1.0"/>
<path d="M156.2 425.5V498.5 M172.7 425.5V498.5 M618.4 425.5V498.5 M634.9 425.5V498.5" stroke="#f03030" stroke-width="1" stroke-linecap="butt" stroke-linejoin="miter"/>
</g>
<path d="M98.4 425.5H676.2V498.5H98.4Z M180.9 498.5v-5.6 M180.9 425.5v5.6 M263.5 498.5v-5.6 M263.5 425.5v5.6 M346.0 498.5v-5.6 M346.0 425.5v5.6 M428.6 498.5v-5.6 M428.6 425.5v5.6 M511.1 498.5v-5.6 M511.1 425.5v5.6 M593.7 498.5v-5.6 M593.7 425.5v5.6 M98.4 462.0h5.6 M676.2 462.0h-5.6" stroke="#4d4d4d" stroke-width="1.1" fill="none"/>
<text x="98.4" y="516.3" text-anchor="middle">2</text>
<text x="180.9" y="516.3" text-anchor="middle">2.5</text>
<text x="263.5" y="516.3" text-anchor="middle">3</text>
<text x="346.0" y="516.3" text-anchor="middle">3.5</text>
<text x="428.6" y="516.3" text-anchor="middle">4</text>
<text x="511.1" y="516.3" text-anchor="middle">4.5</text>
<text x="593.7" y="516.3" text-anchor="middle">5</text>
<text x="676.2" y="516.3" text-anchor="middle">5.5</text>
<text x="94" y="430.7" text-anchor="end">-2</text>
<text x="94" y="467.2" text-anchor="end">-3</text>
<text x="94" y="503.7" text-anchor="end">-4</text>
<text x="387.3" y="533.5" text-anchor="middle" font-size="14">Frequency [GHz]</text>
<text transform="translate(69.6,462.0) rotate(-90)" font-size="14"><tspan x="-44.2" y="0">|</tspan><tspan x="-41.4" y="0" font-style="italic">S</tspan><tspan x="-33.9" y="7" font-size="11">21</tspan><tspan x="-21.1" y="0">|, |</tspan><tspan x="-8.5" y="0" font-style="italic">S</tspan><tspan x="-1.3" y="7" font-size="11">31</tspan><tspan x="11.7" y="0">| [dB]</tspan></text>
<text x="0.6" y="555.3" font-family='"Liberation Sans", sans-serif' font-weight="bold" font-size="17.9" letter-spacing="0.2" fill="#000">c)</text>
<clipPath id="c5"><rect x="98.4" y="569.5" width="577.8" height="72.3"/></clipPath>
<path d="M180.9 569.5V641.8 M263.5 569.5V641.8 M346.0 569.5V641.8 M428.6 569.5V641.8 M511.1 569.5V641.8 M593.7 569.5V641.8 M98.4 594.0H676.2 M98.4 617.9H676.2" stroke="#e4e4e4" stroke-width="1" fill="none"/>
<g clip-path="url(#c5)" fill="none" stroke-linejoin="round" stroke-linecap="round">
<path d="M98.4 587.6 101.9 588.0 106.4 588.7 111.9 589.9 116.9 591.2 120.9 592.4 124.4 593.6 127.9 595.0 131.9 596.9 136.9 599.5 141.9 602.4 146.9 605.7 154.4 610.9 157.4 613.2 162.9 618.6 165.4 620.4 165.9 620.3 166.9 619.7 168.4 618.5 169.4 617.4 171.9 614.4 172.9 613.4 175.9 610.5 178.9 607.9 186.4 602.8 190.4 600.3 196.0 597.1 202.0 594.1 206.5 592.1 212.0 589.9 217.0 588.2 221.5 586.9 226.0 585.9 231.0 585.0 237.5 584.0 244.0 583.2 258.5 581.8 268.0 581.2 281.5 580.7 294.5 580.6 302.0 580.8 318.5 581.8 335.0 582.5 346.0 583.2 346.5 583.4 350.5 583.6 386.5 584.2 397.6 584.5 399.6 584.7 400.1 584.8 400.6 585.0 401.1 585.6 401.6 586.4 404.1 590.8 405.1 592.0 405.6 592.1 406.1 591.7 406.6 590.9 407.1 589.4 408.1 585.3 408.6 583.8 409.1 583.1 409.6 582.7 410.6 582.3 411.1 582.2 413.1 582.1 415.6 582.1 440.6 580.6 456.6 579.7 461.6 579.5 466.1 579.5 469.1 579.7 469.6 579.8 470.6 580.2 472.1 581.4 472.6 581.9 473.6 583.4 474.6 584.5 475.1 584.9 475.6 585.0 476.1 584.9 476.6 584.5 477.6 583.5 479.1 580.6 480.1 579.4 480.6 578.9 481.6 578.5 482.6 578.1 483.6 577.9 487.1 577.7 496.1 577.5 517.1 577.2 533.1 577.6 538.6 577.9 543.6 578.2 551.6 579.2 564.6 581.3 571.6 582.7 577.6 584.1 583.7 586.0 586.7 587.1 589.7 588.3 592.2 589.5 594.7 590.8 596.7 592.0 598.7 593.3 602.7 596.3 606.7 600.0 608.7 602.1 610.2 603.9 612.7 607.3 615.7 612.6 620.7 620.6 622.2 623.3 623.2 625.7 624.2 628.8 625.2 633.9 625.7 635.8 626.2 636.9 626.7 636.7 627.7 634.4 631.7 622.9 632.7 620.4 634.2 617.2 635.7 614.5 637.7 611.5 639.2 609.7 641.2 607.6 643.2 606.0 648.2 602.7 652.7 600.1 657.7 597.6 662.7 595.5 667.7 593.8 672.2 592.5 676.2 591.7 L676.2 591.9 674.2 592.3 672.2 592.8 667.2 594.5 662.7 596.4 658.2 598.8 654.2 601.3 649.7 604.6 646.7 607.2 645.2 608.8 644.2 610.0 643.2 611.5 642.2 613.2 640.7 616.1 639.2 619.7 637.7 624.4 636.7 628.7 635.7 634.4 634.7 642.4 634.2 649.0 619.7 649.0 619.2 645.6 618.7 638.2 618.2 634.2 617.2 629.2 616.7 627.4 615.7 624.5 613.7 619.7 611.2 614.4 609.2 609.8 607.7 606.8 605.7 603.7 603.7 601.0 601.7 598.6 599.7 596.5 595.7 593.0 593.7 591.5 591.7 590.3 589.2 588.9 586.7 587.7 583.7 586.4 580.7 585.3 574.6 583.5 568.1 582.1 555.1 579.8 547.1 578.7 541.6 578.1 536.1 577.8 529.1 577.5 520.1 577.3 511.1 577.3 498.6 577.5 487.1 577.7 484.1 577.9 483.1 578.1 482.1 578.3 480.6 579.0 480.1 579.4 479.1 580.7 477.6 583.5 476.6 584.6 476.1 585.0 475.6 585.1 475.1 585.0 474.6 584.5 473.6 583.5 472.6 582.0 472.1 581.4 470.6 580.3 469.6 579.8 469.1 579.7 466.1 579.5 461.6 579.6 456.6 579.8 440.6 580.6 415.6 582.2 413.1 582.2 411.1 582.3 410.6 582.4 409.6 582.8 409.1 583.2 408.6 583.9 408.1 585.4 407.1 589.5 406.6 591.1 406.1 591.9 405.6 592.3 405.1 592.2 404.1 591.0 401.6 586.6 401.1 585.7 400.6 585.1 400.1 584.9 399.1 584.7 396.6 584.5 385.5 584.2 350.5 583.7 335.5 582.7 318.5 581.9 302.0 581.0 296.5 580.8 289.5 580.8 277.0 581.0 269.0 581.3 263.0 581.6 246.0 583.2 240.0 583.9 234.0 584.7 227.0 585.9 222.0 587.0 217.0 588.5 211.5 590.6 206.0 592.9 201.5 595.2 197.0 598.0 192.4 601.2 188.9 604.2 184.9 608.1 182.4 610.7 180.9 612.7 178.9 615.8 176.9 619.5 175.9 621.9 173.4 628.5 171.4 632.4 168.9 636.5 168.4 636.9 167.9 636.8 166.9 636.9 166.4 636.8 165.4 636.9 164.9 636.8 163.9 637.0 163.4 636.8 162.9 636.8 162.4 636.9 161.9 636.6 161.4 635.8 159.4 632.1 155.4 623.4 153.9 620.3 152.9 618.5 151.4 616.2 148.9 613.3 143.4 607.3 139.4 603.7 135.4 600.6 131.9 598.2 127.9 596.0 123.9 594.1 119.9 592.6 114.9 591.1 108.9 589.6 102.9 588.5 98.4 587.9Z M98.4 589.0 102.4 589.5 106.9 590.2 112.9 591.4 118.4 592.7 122.4 593.7 125.4 594.7 128.4 595.8 131.9 597.3 135.4 599.0 139.4 601.2 142.4 602.9 147.4 606.1 154.9 611.3 156.9 612.8 158.4 614.2 162.9 618.6 165.4 620.4 165.9 620.3 166.9 619.7 168.4 618.6 169.4 617.5 171.9 614.5 172.9 613.4 175.9 610.6 178.9 608.1 186.4 602.9 189.4 601.0 192.9 599.0 197.0 597.0 200.5 595.6 204.5 594.2 211.5 592.2 217.0 590.8 221.0 590.0 225.5 589.4 231.0 588.7 236.5 588.3 275.0 586.4 283.5 586.1 296.5 585.8 310.5 585.2 327.0 584.8 346.0 583.8 346.5 583.9 353.5 583.8 365.5 583.8 388.1 584.2 397.1 584.4 398.6 584.6 400.1 584.8 400.6 585.0 401.1 585.6 404.1 590.8 405.1 592.0 405.6 592.1 406.1 591.7 406.6 590.9 407.1 589.3 408.1 585.1 408.6 584.2 409.6 584.9 410.6 585.2 411.1 585.2 429.6 585.6 447.1 586.5 453.6 586.7 464.1 586.9 469.6 586.8 470.6 587.0 471.6 587.3 472.1 587.5 472.6 588.0 473.1 589.1 474.1 591.6 475.6 596.2 476.6 598.3 477.1 599.2 477.6 599.6 478.1 599.3 478.6 598.4 480.6 593.8 481.1 592.8 481.6 592.3 482.6 591.7 484.1 591.2 485.6 590.8 487.1 590.5 491.1 590.2 495.6 590.1 506.6 590.0 556.6 591.2 565.1 591.5 571.1 591.9 576.1 592.5 581.2 593.4 586.2 594.5 591.2 596.0 595.2 597.5 599.2 599.2 604.7 602.0 606.7 603.2 607.7 603.9 610.7 606.7 612.2 608.3 613.7 610.1 617.2 615.0 621.2 621.6 622.7 624.6 623.7 627.2 624.2 628.9 625.2 633.9 625.7 635.8 626.2 636.9 626.7 636.7 627.7 634.4 631.7 622.9 632.7 620.4 634.2 617.2 635.7 614.5 637.7 611.5 639.2 609.7 641.2 607.6 643.2 606.0 648.2 602.7 652.7 600.1 657.7 597.6 662.7 595.5 667.7 593.8 672.2 592.5 676.2 591.7 L676.2 591.9 674.2 592.3 672.2 592.8 667.2 594.5 662.7 596.4 658.2 598.8 654.2 601.3 649.7 604.6 646.7 607.2 645.2 608.8 644.2 610.0 643.2 611.5 642.2 613.2 640.7 616.1 639.2 619.7 637.7 624.4 636.7 628.7 635.7 634.4 634.7 642.4 634.2 649.0 619.7 649.0 619.2 645.9 618.7 638.4 618.2 634.5 617.2 629.5 616.2 626.0 613.7 619.8 611.2 614.7 608.7 610.3 606.2 606.9 603.7 604.2 601.7 602.6 596.2 599.3 592.2 597.3 587.7 595.6 583.2 594.2 577.6 593.0 572.6 592.3 566.6 591.8 558.1 591.4 507.1 590.2 495.6 590.2 491.1 590.4 487.1 590.7 485.6 590.9 484.1 591.3 482.6 591.9 481.6 592.5 481.1 593.0 480.6 594.0 478.6 598.8 478.1 599.7 477.6 600.0 477.1 599.6 476.6 598.7 475.6 596.4 474.1 591.7 473.1 589.2 472.6 588.2 472.1 587.6 470.6 587.1 469.1 586.9 464.1 587.0 453.1 586.8 429.6 585.7 411.1 585.3 410.6 585.3 409.6 585.0 408.6 584.2 408.1 585.2 407.1 589.5 406.6 591.1 406.1 591.9 405.6 592.3 405.1 592.2 404.1 591.0 401.1 585.7 400.6 585.1 400.1 584.9 398.6 584.6 396.1 584.5 369.5 583.9 355.5 583.8 346.5 584.0 327.0 585.0 311.0 585.5 297.0 586.1 282.5 586.4 271.5 586.9 240.0 588.4 234.5 588.8 229.5 589.2 223.0 590.1 218.0 591.0 213.0 592.3 207.0 594.1 203.0 595.5 199.5 597.0 196.0 599.0 192.9 601.0 189.4 603.9 184.4 608.8 182.4 610.9 180.4 613.6 178.4 616.8 176.9 619.6 175.9 622.0 173.4 628.6 172.4 630.7 170.9 633.4 168.9 636.6 168.4 637.0 167.9 636.9 166.9 637.1 166.4 636.9 165.4 637.1 164.9 637.0 163.9 637.1 163.4 637.0 162.9 637.0 162.4 637.1 161.9 636.8 161.4 636.0 159.4 632.2 155.4 623.5 153.9 620.4 152.4 617.8 150.9 615.7 148.9 613.4 143.4 607.4 139.9 604.3 136.9 602.0 133.4 599.6 129.4 597.3 125.9 595.7 122.4 594.4 116.9 592.8 109.9 591.2 103.4 590.0 98.4 589.4Z" fill="#b0b0b0" stroke="#b0b0b0" stroke-width="1.2"/>
<path d="M599.7 595.2 602.2 597.4 605.2 600.6 607.2 603.0 609.2 605.7 610.7 608.1 613.7 614.0 618.2 622.3 619.2 624.4 620.2 627.1 621.2 630.8 621.7 633.3 622.7 642.2 623.7 646.9 624.2 650.1 624.7 651.4 628.2 651.4 628.7 649.7 629.7 644.1 632.2 632.9 633.7 627.1 634.7 623.7 635.7 620.9 637.2 617.4 638.7 614.5 640.7 611.3 642.2 609.3 644.7 606.8 646.7 605.2 649.7 603.1 653.2 600.8 656.7 598.8 660.2 597.1 664.2 595.3 M594.2 597.6 597.2 599.0 600.7 600.9 603.2 602.3 605.2 603.7 607.2 605.6 609.7 608.4 611.2 610.3 612.7 612.6 615.2 616.8 618.2 622.4 619.2 624.6 620.2 627.3 621.2 630.9 621.7 633.4 622.7 642.2 623.7 646.9 624.2 650.1 624.7 651.4 628.2 651.4 628.7 649.7 629.7 644.1 631.7 635.0 632.7 630.9 634.2 625.3 635.2 622.2 636.7 618.5 638.2 615.4 639.7 612.8 641.7 610.0 643.2 608.3 645.2 606.4 648.2 604.1 652.2 601.4 655.7 599.3 659.7 597.3 664.2 595.3" stroke="#b0b0b0" stroke-width="3.2"/>
<path d="M98.4 587.8 102.9 588.4 108.4 589.4 114.4 590.8 119.4 592.3 123.4 593.7 127.4 595.4 131.4 597.4 135.4 599.8 139.9 602.9 144.4 606.4 146.4 608.2 152.9 614.2 154.4 615.8 155.4 617.1 157.9 620.8 160.4 624.8 161.9 626.9 162.9 628.1 164.4 629.6 164.9 629.9 165.4 630.1 165.9 629.9 166.4 629.5 167.9 628.2 169.4 626.7 170.4 625.4 171.4 623.9 173.9 619.1 174.9 617.3 177.4 613.8 180.4 610.2 182.4 608.3 188.4 603.3 191.4 601.0 195.0 598.7 200.0 595.7 204.5 593.4 210.0 591.0 216.5 588.6 221.0 587.2 225.5 586.2 231.5 585.1 238.0 584.1 249.5 582.8 265.0 581.5 279.5 580.8 292.0 580.7 297.5 580.8 302.5 581.0 318.5 581.9 335.5 582.7 350.5 583.6 386.0 584.2 397.1 584.5 399.6 584.7 400.1 584.8 400.6 585.1 401.1 585.7 401.6 586.5 404.1 590.9 405.1 592.1 405.6 592.2 406.1 591.8 406.6 591.0 407.1 589.4 408.1 585.3 408.6 583.9 409.1 583.2 409.6 582.8 410.6 582.3 411.1 582.3 413.1 582.1 415.6 582.2 440.6 580.6 456.6 579.7 461.6 579.5 466.1 579.5 469.1 579.7 469.6 579.8 470.6 580.3 472.1 581.4 472.6 582.0 473.6 583.4 474.6 584.5 475.1 584.9 475.6 585.1 476.1 584.9 476.6 584.6 477.6 583.5 479.1 580.6 480.1 579.4 480.6 578.9 482.1 578.3 483.1 578.0 484.1 577.9 487.1 577.7 498.6 577.4 511.1 577.3 520.1 577.3 529.1 577.5 536.1 577.7 541.6 578.1 547.1 578.6 555.1 579.8 568.1 582.0 575.1 583.6 581.2 585.3 584.2 586.4 587.2 587.6 590.2 589.0 592.7 590.3 594.7 591.5 596.7 592.8 601.2 596.5 603.2 598.4 605.7 601.1 607.7 603.6 609.7 606.5 610.7 608.1 613.7 614.0 617.7 621.3 619.2 624.4 620.2 627.1 621.2 630.8 621.7 633.3 622.7 642.2 624.2 649.0 628.7 649.0 632.2 632.9 633.7 627.1 635.2 622.2 636.7 618.5 638.7 614.5 640.7 611.3 642.7 608.8 645.2 606.4 648.7 603.8 653.2 600.8 657.7 598.3 662.7 595.9 667.7 594.0 672.2 592.6 676.2 591.8 M98.4 589.3 102.9 589.8 108.9 590.9 115.9 592.4 121.4 593.9 124.9 595.0 128.4 596.4 131.9 598.1 135.4 600.1 139.9 603.1 144.4 606.5 146.4 608.2 152.9 614.3 154.4 615.9 155.4 617.2 157.9 620.9 160.4 624.9 161.9 626.9 162.9 628.1 164.4 629.6 164.9 630.0 165.4 630.1 165.9 630.0 166.4 629.6 167.9 628.3 169.4 626.8 170.4 625.5 171.4 623.9 173.9 619.1 174.9 617.4 177.4 613.9 180.4 610.4 182.4 608.5 188.4 603.4 190.9 601.5 193.9 599.5 197.5 597.6 201.5 595.8 205.5 594.4 212.0 592.4 216.5 591.2 221.0 590.3 226.5 589.5 232.5 588.8 241.0 588.2 273.5 586.7 283.0 586.3 297.0 586.0 311.0 585.4 327.0 585.0 347.5 583.9 353.5 583.8 364.5 583.8 386.5 584.2 397.1 584.5 398.6 584.6 400.1 584.8 400.6 585.1 401.1 585.7 404.1 590.9 405.1 592.1 405.6 592.2 406.1 591.8 406.6 591.0 407.1 589.4 408.1 585.2 408.6 584.2 409.6 584.9 410.6 585.2 411.1 585.3 429.6 585.6 447.1 586.5 453.6 586.8 464.1 587.0 469.6 586.9 470.6 587.0 471.6 587.3 472.1 587.6 472.6 588.1 473.1 589.1 474.1 591.6 475.6 596.3 476.6 598.5 477.1 599.3 477.6 599.7 478.1 599.5 478.6 598.5 480.6 593.8 481.1 592.9 481.6 592.4 482.6 591.8 484.1 591.2 485.6 590.8 487.1 590.6 491.1 590.3 495.6 590.1 507.1 590.1 558.6 591.3 567.1 591.7 573.1 592.2 578.1 592.9 583.7 594.1 588.7 595.5 593.2 597.2 597.7 599.3 601.2 601.2 603.7 602.7 604.7 603.3 605.7 604.1 608.2 606.6 610.2 609.0 611.2 610.3 614.2 615.0 615.7 617.7 618.2 622.4 619.7 625.9 620.7 628.9 621.7 633.4 622.7 642.2 624.2 649.0 628.7 649.0 632.2 632.9 633.7 627.1 635.2 622.2 636.7 618.5 638.7 614.5 640.7 611.3 642.7 608.8 645.2 606.4 648.7 603.8 653.2 600.8 657.7 598.3 662.7 595.9 667.7 594.0 672.2 592.6 676.2 591.8" stroke="#111" stroke-width="1.3"/>
<path d="M156.2 569.5V610.7H172.7V569.5 M618.4 569.5V610.7H634.9V569.5" stroke="#f03030" stroke-width="1" stroke-linecap="butt" stroke-linejoin="miter"/>
</g>
<path d="M98.4 569.5H676.2V641.8H98.4Z M180.9 641.8v-5.6 M180.9 569.5v5.6 M263.5 641.8v-5.6 M263.5 569.5v5.6 M346.0 641.8v-5.6 M346.0 569.5v5.6 M428.6 641.8v-5.6 M428.6 569.5v5.6 M511.1 641.8v-5.6 M511.1 569.5v5.6 M593.7 641.8v-5.6 M593.7 569.5v5.6 M98.4 594.0h5.6 M676.2 594.0h-5.6 M98.4 617.9h5.6 M676.2 617.9h-5.6" stroke="#4d4d4d" stroke-width="1.1" fill="none"/>
<text x="98.4" y="659.6" text-anchor="middle">2</text>
<text x="180.9" y="659.6" text-anchor="middle">2.5</text>
<text x="263.5" y="659.6" text-anchor="middle">3</text>
<text x="346.0" y="659.6" text-anchor="middle">3.5</text>
<text x="428.6" y="659.6" text-anchor="middle">4</text>
<text x="511.1" y="659.6" text-anchor="middle">4.5</text>
<text x="593.7" y="659.6" text-anchor="middle">5</text>
<text x="676.2" y="659.6" text-anchor="middle">5.5</text>
<text x="94" y="575.3" text-anchor="end">0</text>
<text x="94" y="599.2" text-anchor="end">-10</text>
<text x="94" y="623.1" text-anchor="end">-20</text>
<text x="94" y="647.0" text-anchor="end">-30</text>
<text x="387.3" y="676.8" text-anchor="middle" font-size="14">Frequency [GHz]</text>
<text transform="translate(63.4,605.6) rotate(-90)" font-size="14"><tspan x="-44.2" y="0">|</tspan><tspan x="-41.4" y="0" font-style="italic">S</tspan><tspan x="-33.9" y="7" font-size="11">11</tspan><tspan x="-21.1" y="0">|, |</tspan><tspan x="-8.5" y="0" font-style="italic">S</tspan><tspan x="-1.3" y="7" font-size="11">41</tspan><tspan x="11.7" y="0">| [dB]</tspan></text>
<clipPath id="c6"><rect x="98.4" y="687.6" width="577.8" height="72.8"/></clipPath>
<path d="M180.9 687.6V760.4 M263.5 687.6V760.4 M346.0 687.6V760.4 M428.6 687.6V760.4 M511.1 687.6V760.4 M593.7 687.6V760.4 M98.4 724.0H676.2" stroke="#e4e4e4" stroke-width="1" fill="none"/>
<g clip-path="url(#c6)" fill="none" stroke-linejoin="round" stroke-linecap="round">
<path d="M95.9 757.8 98.4 756.0 100.4 754.2 113.9 740.1 118.9 735.2 121.9 732.6 125.4 729.7 127.9 727.8 130.4 726.0 132.9 724.5 135.4 723.3 137.9 722.3 140.4 721.6 143.4 721.1 146.4 720.7 153.4 720.7 155.9 720.8 158.9 721.2 161.4 721.7 164.4 722.5 174.9 726.1 183.9 728.9 187.9 730.3 193.4 732.4 197.9 734.5 200.9 736.1 204.4 738.2 207.9 740.5 210.9 742.7 213.9 745.2 217.4 748.4 224.9 755.8 229.4 759.2 L229.4 768.0 220.4 761.0 212.9 753.6 209.9 750.9 206.9 748.4 204.4 746.5 201.4 744.5 197.9 742.3 194.9 740.6 191.9 739.1 188.4 737.6 184.4 736.0 180.4 734.6 171.4 731.8 162.4 728.8 158.9 727.6 154.9 726.7 150.9 726.2 148.4 726.4 145.9 726.8 143.4 727.4 141.4 728.1 139.4 728.9 136.9 730.2 134.9 731.4 132.4 733.1 129.9 735.0 126.9 737.4 121.4 742.4 117.4 746.4 105.4 758.9 103.4 760.9 101.9 762.1 95.9 766.3Z M128.0 764.2 134.0 757.9 135.5 755.9 137.5 752.7 142.5 743.3 145.0 739.0 148.0 734.6 149.5 732.6 151.5 730.3 153.5 728.2 155.5 726.3 157.5 724.7 159.0 723.7 161.0 722.5 163.0 721.7 165.0 721.1 166.6 720.9 173.6 720.9 175.1 721.1 176.6 721.4 178.6 722.2 180.6 723.3 182.6 724.8 184.6 726.5 187.1 729.1 189.1 731.4 191.1 734.0 193.1 736.9 196.6 742.7 202.6 754.0 204.1 756.5 205.1 757.8 L205.1 772.0 199.1 764.6 198.1 763.1 196.6 760.6 192.1 752.0 189.6 747.6 186.6 742.8 183.6 738.8 181.6 736.5 179.6 734.4 177.6 732.6 176.1 731.4 174.6 730.3 173.1 729.5 171.1 728.7 170.1 728.5 168.6 729.0 167.1 729.6 165.5 730.4 163.5 731.7 160.5 734.1 159.0 735.6 157.0 737.7 154.0 741.3 151.0 745.7 148.0 750.8 143.0 760.1 141.5 762.6 140.5 764.1 139.5 765.2 130.5 774.8 130.0 775.0 128.0 775.0Z M561.1 760.5 564.6 757.0 565.6 755.8 567.1 753.6 569.1 750.4 583.1 726.3 586.1 721.6 589.2 717.6 591.2 715.4 593.2 713.4 595.2 711.8 596.7 710.7 598.7 709.6 600.2 709.0 601.7 708.7 603.7 708.5 607.2 708.5 609.2 708.7 611.2 709.1 613.7 710.0 615.7 711.0 618.2 712.4 621.7 714.8 625.2 717.3 627.7 719.3 629.7 721.1 636.2 727.6 639.7 730.9 643.7 734.1 654.3 742.3 660.3 747.4 663.3 750.3 668.3 756.3 671.3 759.2 L671.3 771.3 665.8 766.0 660.8 760.1 657.8 757.0 655.3 754.8 651.8 751.9 640.7 743.3 636.7 740.1 633.2 736.9 626.7 730.3 623.7 727.7 621.2 725.8 617.7 723.3 614.7 721.3 612.7 720.1 610.7 719.2 608.7 718.4 606.7 717.9 605.2 717.7 603.7 718.0 602.2 718.6 600.7 719.3 598.7 720.6 597.2 721.8 595.2 723.6 593.2 725.7 591.7 727.5 589.2 730.9 586.1 735.6 572.1 759.7 569.6 763.7 568.6 765.1 567.6 766.3 561.1 772.6Z M602.8 763.7 606.3 758.4 607.3 756.7 608.8 753.7 612.8 744.7 615.4 739.5 617.9 734.8 619.9 731.7 621.4 729.8 622.4 728.7 631.5 719.6 632.5 718.8 634.0 717.9 635.5 717.3 637.0 717.0 638.5 716.9 641.0 717.0 642.5 717.2 643.5 717.6 644.5 718.1 646.0 719.0 647.6 720.2 649.1 721.6 653.1 725.9 657.1 730.7 664.2 739.9 671.2 749.8 672.7 751.6 675.2 754.2 L675.2 775.0 674.7 775.0 674.2 774.6 662.6 762.7 660.6 760.1 654.6 751.6 649.6 744.9 645.5 739.9 641.0 734.8 638.5 732.3 637.0 731.0 636.0 730.3 634.0 729.2 633.0 728.9 631.5 728.6 630.4 728.7 629.4 728.9 628.4 729.3 627.9 729.7 626.4 732.2 624.4 736.1 622.4 740.4 618.4 749.4 616.4 753.3 602.8 773.5Z" fill="#b0b0b0" stroke="#b0b0b0" stroke-width="1.6"/>
<path d="M401.5 767.0 402.0 765.9 402.5 763.9 403.0 761.3 403.6 757.4 404.6 743.7 405.1 738.6 405.6 738.2 406.1 742.9 407.1 757.3 407.7 761.3 408.2 764.0 408.7 766.0 409.2 767.0 M475.0 767.0 476.0 761.1 477.5 747.7 478.0 746.5 478.5 748.7 480.0 761.0 481.0 767.0" stroke="#b0b0b0" stroke-width="2"/>
<path d="M100.5 760.3 102.0 759.1 103.5 757.7 116.0 744.6 120.5 740.1 126.1 735.2 129.1 732.7 131.6 730.9 134.1 729.2 136.6 727.8 139.1 726.6 141.1 725.9 143.6 725.2 146.1 724.7 149.1 724.4 151.6 724.3 154.1 724.4 157.1 724.7 159.6 725.2 162.7 726.1 173.7 729.8 182.2 732.4 186.2 733.8 191.7 735.9 196.2 737.9 199.7 739.8 203.2 741.9 206.8 744.3 209.8 746.5 212.3 748.6 215.3 751.2 218.3 754.1 222.8 758.7 224.8 760.4 M133.6 763.7 136.1 761.0 137.6 758.9 139.6 755.4 144.7 746.0 146.7 742.6 149.7 738.2 152.7 734.5 154.7 732.3 156.7 730.4 158.8 728.7 160.8 727.3 162.8 726.1 164.8 725.3 166.8 724.8 168.3 724.6 170.3 724.6 171.8 724.8 173.8 725.5 175.4 726.2 177.4 727.5 179.4 729.1 181.4 730.9 183.4 733.0 185.4 735.4 186.9 737.4 188.9 740.2 190.4 742.6 193.0 746.9 198.0 756.5 199.5 759.1 M564.9 761.4 566.4 759.7 568.4 756.8 583.9 730.3 586.9 725.6 589.9 721.5 591.9 719.3 593.9 717.3 595.9 715.6 597.9 714.2 599.9 713.1 601.4 712.6 602.9 712.3 604.9 712.1 606.9 712.3 608.9 712.7 610.9 713.4 612.9 714.3 614.9 715.4 617.5 717.0 621.0 719.4 624.0 721.6 627.5 724.6 634.0 731.2 637.5 734.4 641.5 737.7 652.5 746.2 658.5 751.3 661.5 754.3 666.0 759.7 667.5 761.3 M610.2 756.5 611.7 753.5 616.2 743.5 618.2 739.3 620.7 734.7 623.2 730.9 624.7 729.0 625.7 728.0 626.7 727.1 628.2 726.0 629.7 725.3 631.2 724.8 632.7 724.6 634.2 724.6 635.7 724.8 636.7 725.2 637.7 725.6 639.3 726.5 641.8 728.6 644.8 731.6 648.3 735.6 651.8 739.9 658.3 748.5 664.3 757.0 665.8 758.9 667.8 761.0 M401.5 767.0 402.0 765.9 402.5 763.9 403.0 761.3 403.6 757.4 404.6 743.7 405.1 738.6 405.6 738.2 406.1 742.9 407.1 757.3 407.7 761.3 408.2 764.0 408.7 766.0 409.2 767.0 M475.0 767.0 476.0 761.1 477.5 747.7 478.0 746.5 478.5 748.7 480.0 761.0 481.0 767.0" stroke="#111" stroke-width="1.0"/>
<path d="M156.2 687.6V760.4 M172.7 687.6V760.4 M618.4 687.6V760.4 M634.9 687.6V760.4" stroke="#f03030" stroke-width="1" stroke-linecap="butt" stroke-linejoin="miter"/>
</g>
<path d="M98.4 687.6H676.2V760.4H98.4Z M180.9 760.4v-5.6 M180.9 687.6v5.6 M263.5 760.4v-5.6 M263.5 687.6v5.6 M346.0 760.4v-5.6 M346.0 687.6v5.6 M428.6 760.4v-5.6 M428.6 687.6v5.6 M511.1 760.4v-5.6 M511.1 687.6v5.6 M593.7 760.4v-5.6 M593.7 687.6v5.6 M98.4 724.0h5.6 M676.2 724.0h-5.6" stroke="#4d4d4d" stroke-width="1.1" fill="none"/>
<text x="98.4" y="778.2" text-anchor="middle">2</text>
<text x="180.9" y="778.2" text-anchor="middle">2.5</text>
<text x="263.5" y="778.2" text-anchor="middle">3</text>
<text x="346.0" y="778.2" text-anchor="middle">3.5</text>
<text x="428.6" y="778.2" text-anchor="middle">4</text>
<text x="511.1" y="778.2" text-anchor="middle">4.5</text>
<text x="593.7" y="778.2" text-anchor="middle">5</text>
<text x="676.2" y="778.2" text-anchor="middle">5.5</text>
<text x="94" y="692.8" text-anchor="end">-2</text>
<text x="94" y="729.2" text-anchor="end">-3</text>
<text x="94" y="765.6" text-anchor="end">-4</text>
<text x="387.3" y="795.4" text-anchor="middle" font-size="14">Frequency [GHz]</text>
<text transform="translate(69.6,724.0) rotate(-90)" font-size="14"><tspan x="-44.2" y="0">|</tspan><tspan x="-41.4" y="0" font-style="italic">S</tspan><tspan x="-33.9" y="7" font-size="11">21</tspan><tspan x="-21.1" y="0">|, |</tspan><tspan x="-8.5" y="0" font-style="italic">S</tspan><tspan x="-1.3" y="7" font-size="11">31</tspan><tspan x="11.7" y="0">| [dB]</tspan></text>
</svg>
</body></html>
